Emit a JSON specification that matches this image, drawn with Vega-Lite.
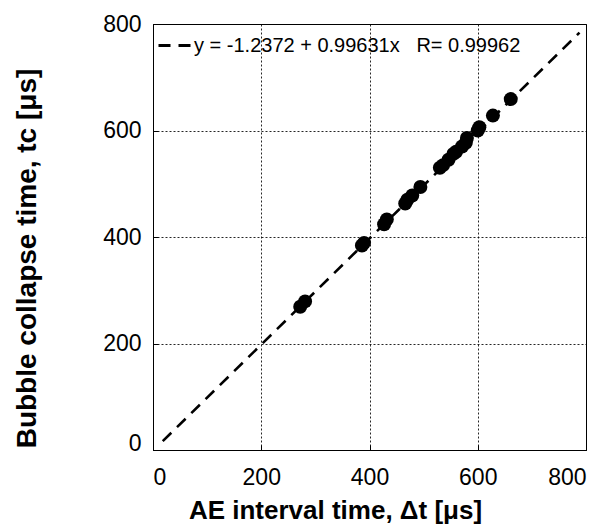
{
  "$schema": "https://vega.github.io/schema/vega-lite/v6.json",
  "width": 433,
  "height": 426,
  "autosize": "none",
  "padding": {"left": 153, "top": 24, "right": 21, "bottom": 81},
  "background": "white",
  "config": {
    "font": "Liberation Sans",
    "view": {"stroke": "black", "strokeWidth": 1},
    "axis": {
      "grid": true,
      "gridColor": "black",
      "gridDash": [2, 2],
      "gridWidth": 1,
      "gridOpacity": 0.85,
      "domainColor": "black",
      "domainWidth": 1,
      "tickColor": "black",
      "tickSize": -5,
      "labelFont": "Liberation Sans",
      "labelFontSize": 23,
      "labelColor": "black",
      "titleFont": "Liberation Sans",
      "titleColor": "black",
      "titleFontWeight": "bold"
    }
  },
  "layer": [
    {
      "data": {
        "values": [
          {"x": 18, "y": 16.7, "fit": "y = -1.2372 + 0.99631x\u00a0\u00a0\u00a0R= 0.99962"},
          {"x": 788, "y": 783.85, "fit": "y = -1.2372 + 0.99631x\u00a0\u00a0\u00a0R= 0.99962"}
        ]
      },
      "mark": {"type": "line", "color": "black", "strokeWidth": 2.6},
      "encoding": {
        "x": {
          "field": "x", "type": "quantitative",
          "scale": {"domain": [0, 800], "nice": false},
          "axis": {
            "values": [0, 200, 400, 600, 800],
            "labelPadding": 21,
            "title": "AE interval time, Δt [μs]",
            "titleFontSize": 26,
            "titleX": 182,
            "titleY": 68,
            "titleAlign": "center",
            "titleBaseline": "alphabetic"
          }
        },
        "y": {
          "field": "y", "type": "quantitative",
          "scale": {"domain": [0, 800], "nice": false},
          "axis": {
            "values": [0, 200, 400, 600, 800],
            "labelPadding": 17,
            "labelBaseline": {"condition": {"test": "datum.value === 0", "value": "alphabetic"}, "value": "middle"},
            "title": "Bubble collapse time, tc [μs]",
            "titleFontSize": 28,
            "titleX": -118,
            "titleY": 234,
            "titleAlign": "center",
            "titleBaseline": "alphabetic"
          }
        },
        "strokeDash": {
          "field": "fit", "type": "nominal",
          "scale": {"range": [[12, 8]]},
          "legend": {
            "title": null,
            "orient": "top-left",
            "offset": 4,
            "padding": 0,
            "labelFontSize": 20,
            "labelFont": "Liberation Sans",
            "labelColor": "black",
            "labelLimit": 0,
            "symbolType": "stroke",
            "symbolSize": 1024,
            "symbolStrokeWidth": 3,
            "symbolStrokeColor": "black",
            "symbolDash": [12, 7],
            "labelOffset": 2
          }
        }
      }
    },
    {
      "data": {
        "values": [
          {"x": 272, "y": 269},
          {"x": 281, "y": 279},
          {"x": 386, "y": 384},
          {"x": 390, "y": 389},
          {"x": 427, "y": 424},
          {"x": 432, "y": 433},
          {"x": 466, "y": 463},
          {"x": 470, "y": 470},
          {"x": 479, "y": 478},
          {"x": 494, "y": 494},
          {"x": 530, "y": 530},
          {"x": 536, "y": 535},
          {"x": 546, "y": 545},
          {"x": 555, "y": 556},
          {"x": 560, "y": 560},
          {"x": 571, "y": 570},
          {"x": 578, "y": 577},
          {"x": 580, "y": 586},
          {"x": 600, "y": 600},
          {"x": 603, "y": 606},
          {"x": 628, "y": 628},
          {"x": 661, "y": 659}
        ]
      },
      "mark": {"type": "circle", "color": "black", "opacity": 1, "size": 195},
      "encoding": {
        "x": {"field": "x", "type": "quantitative"},
        "y": {"field": "y", "type": "quantitative"}
      }
    }
  ]
}
